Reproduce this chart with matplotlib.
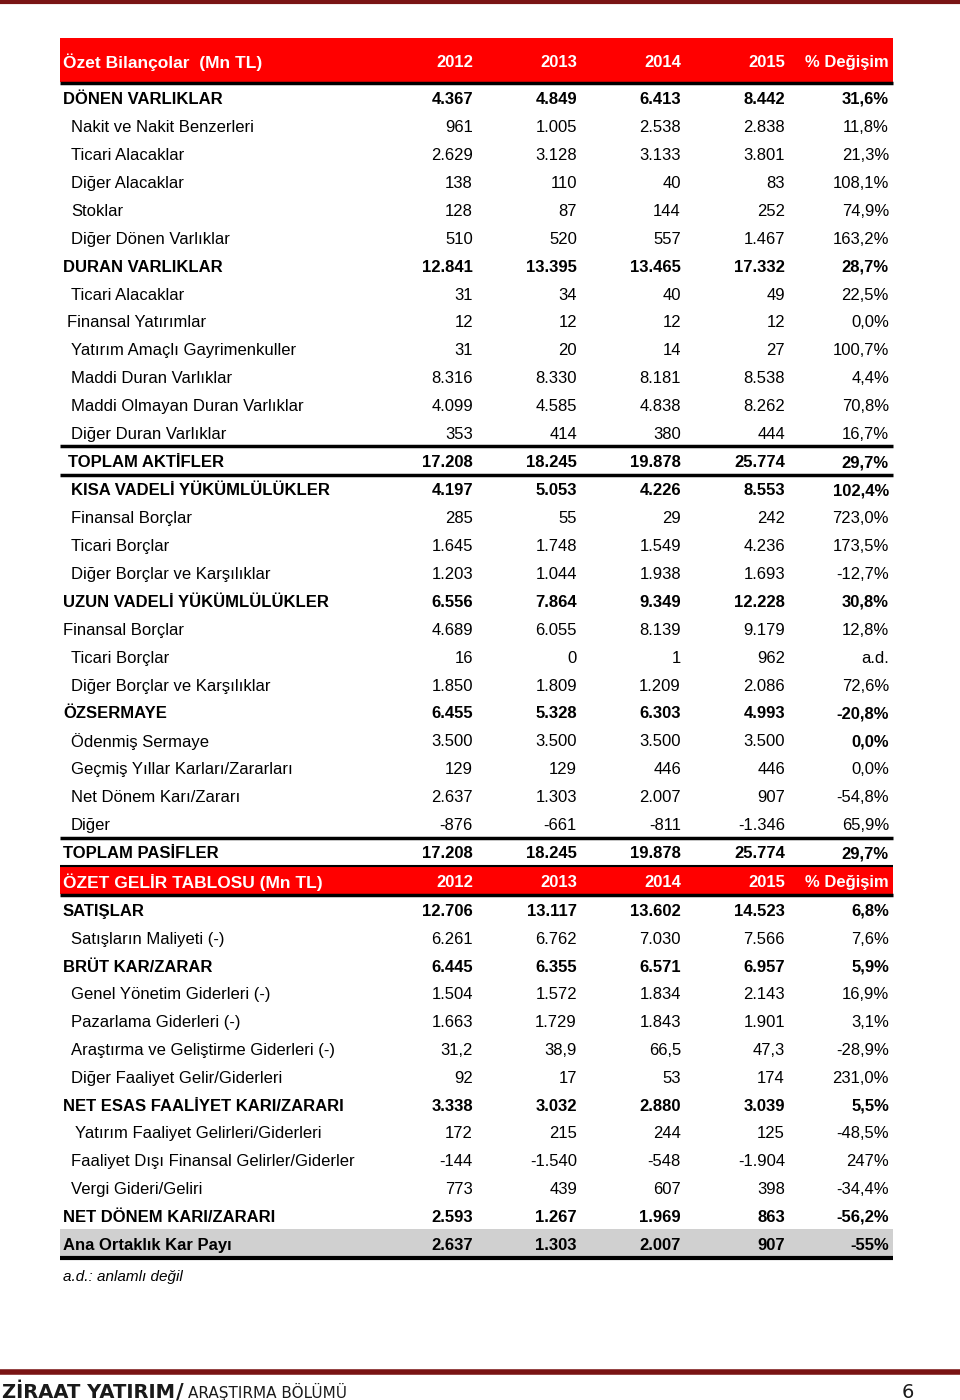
import matplotlib.pyplot as plt
from matplotlib.patches import Rectangle

plt.rcParams['font.family'] = ['Liberation Sans', 'DejaVu Sans']

years = ["2012", "2013", "2014", "2015"]

# bilanço
bs_labels = [
    "DÖNEN VARLIKLAR", "Nakit ve Nakit Benzerleri", "Ticari Alacaklar", "Diğer Alacaklar",
    "Stoklar", "Diğer Dönen Varlıklar", "DURAN VARLIKLAR", "Ticari Alacaklar",
    "Finansal Yatırımlar", "Yatırım Amaçlı Gayrimenkuller", "Maddi Duran Varlıklar",
    "Maddi Olmayan Duran Varlıklar", "Diğer Duran Varlıklar", "TOPLAM AKTİFLER",
    "KISA VADELİ YÜKÜMLÜLÜKLER", "Finansal Borçlar", "Ticari Borçlar",
    "Diğer Borçlar ve Karşılıklar", "UZUN VADELİ YÜKÜMLÜLÜKLER", "Finansal Borçlar",
    "Ticari Borçlar", "Diğer Borçlar ve Karşılıklar", "ÖZSERMAYE", "Ödenmiş Sermaye",
    "Geçmiş Yıllar Karları/Zararları", "Net Dönem Karı/Zararı", "Diğer", "TOPLAM PASİFLER",
]
bs_2012 = ["4.367", "961", "2.629", "138", "128", "510", "12.841", "31", "12", "31", "8.316",
           "4.099", "353", "17.208", "4.197", "285", "1.645", "1.203", "6.556", "4.689", "16",
           "1.850", "6.455", "3.500", "129", "2.637", "-876", "17.208"]
bs_2013 = ["4.849", "1.005", "3.128", "110", "87", "520", "13.395", "34", "12", "20", "8.330",
           "4.585", "414", "18.245", "5.053", "55", "1.748", "1.044", "7.864", "6.055", "0",
           "1.809", "5.328", "3.500", "129", "1.303", "-661", "18.245"]
bs_2014 = ["6.413", "2.538", "3.133", "40", "144", "557", "13.465", "40", "12", "14", "8.181",
           "4.838", "380", "19.878", "4.226", "29", "1.549", "1.938", "9.349", "8.139", "1",
           "1.209", "6.303", "3.500", "446", "2.007", "-811", "19.878"]
bs_2015 = ["8.442", "2.838", "3.801", "83", "252", "1.467", "17.332", "49", "12", "27", "8.538",
           "8.262", "444", "25.774", "8.553", "242", "4.236", "1.693", "12.228", "9.179", "962",
           "2.086", "4.993", "3.500", "446", "907", "-1.346", "25.774"]
bs_pct = ["31,6%", "11,8%", "21,3%", "108,1%", "74,9%", "163,2%", "28,7%", "22,5%", "0,0%",
          "100,7%", "4,4%", "70,8%", "16,7%", "29,7%", "102,4%", "723,0%", "173,5%", "-12,7%",
          "30,8%", "12,8%", "a.d.", "72,6%", "-20,8%", "0,0%", "0,0%", "-54,8%", "65,9%", "29,7%"]
bs_bold = [1, 0, 0, 0, 0, 0, 1, 0, 0, 0, 0, 0, 0, 1, 1, 0, 0, 0, 1, 0, 0, 0, 1, 0, 0, 0, 0, 1]
bs_pct_bold = [1, 0, 0, 0, 0, 0, 1, 0, 0, 0, 0, 0, 0, 1, 1, 0, 0, 0, 1, 0, 0, 0, 1, 1, 0, 0, 0, 1]
bs_indent = [0, 8, 8, 8, 8, 8, 0, 8, 4, 8, 8, 8, 8, 5, 8, 8, 8, 8, 0, 0, 8, 8, 0, 8, 8, 8, 8, 0]

# gelir tablosu
is_labels = [
    "SATIŞLAR", "Satışların Maliyeti (-)", "BRÜT KAR/ZARAR", "Genel Yönetim Giderleri (-)",
    "Pazarlama Giderleri (-)", "Araştırma ve Geliştirme Giderleri (-)",
    "Diğer Faaliyet Gelir/Giderleri", "NET ESAS FAALİYET KARI/ZARARI",
    "Yatırım Faaliyet Gelirleri/Giderleri", "Faaliyet Dışı Finansal Gelirler/Giderler",
    "Vergi Gideri/Geliri", "NET DÖNEM KARI/ZARARI", "Ana Ortaklık Kar Payı",
]
is_2012 = ["12.706", "6.261", "6.445", "1.504", "1.663", "31,2", "92", "3.338", "172", "-144",
           "773", "2.593", "2.637"]
is_2013 = ["13.117", "6.762", "6.355", "1.572", "1.729", "38,9", "17", "3.032", "215", "-1.540",
           "439", "1.267", "1.303"]
is_2014 = ["13.602", "7.030", "6.571", "1.834", "1.843", "66,5", "53", "2.880", "244", "-548",
           "607", "1.969", "2.007"]
is_2015 = ["14.523", "7.566", "6.957", "2.143", "1.901", "47,3", "174", "3.039", "125", "-1.904",
           "398", "863", "907"]
is_pct = ["6,8%", "7,6%", "5,9%", "16,9%", "3,1%", "-28,9%", "231,0%", "5,5%", "-48,5%",
          "247%", "-34,4%", "-56,2%", "-55%"]
is_bold = [1, 0, 1, 0, 0, 0, 0, 1, 0, 0, 0, 1, 1]
is_indent = [0, 8, 0, 8, 8, 8, 8, 0, 12, 8, 8, 0, 0]

RED = "#ff0000"
DARKRED = "#7a1414"
X0, X1 = 60, 893
col_right = [473, 577, 681, 785, 889]
FS = 12

fig = plt.figure(figsize=(9.6, 14), dpi=100)
ax = fig.add_axes([0, 0, 1, 1])
ax.set_xlim(0, 960)
ax.set_ylim(1400, 0)
ax.axis("off")


def hline(y, lw=1.0, color="black", x0=X0, x1=X1):
    ax.plot([x0, x1], [y, y], color=color, lw=lw, solid_capstyle="butt")


def header(y_top, y_bot, title, yc):
    ax.add_patch(Rectangle((X0, y_top), X1 - X0, y_bot - y_top, color=RED, lw=0))
    ax.text(X0 + 3, yc, title, color="white", fontsize=FS + 0.5, fontweight="bold",
            va="center_baseline", ha="left")
    for i, t in enumerate(years + ["% Değişim"]):
        ax.text(col_right[i], yc, t, color="white", fontsize=FS, fontweight="bold",
                va="center_baseline", ha="right")


def rows(y0, step, labels, cols, bold, indent, pct_bold=None):
    if pct_bold is None:
        pct_bold = bold
    for k, lab in enumerate(labels):
        y = y0 + k * step
        w = "bold" if bold[k] else "normal"
        ax.text(X0 + 3 + indent[k], y, lab, fontsize=FS, fontweight=w,
                va="center_baseline", ha="left")
        for i, c in enumerate(cols):
            wi = w if i < 4 else ("bold" if pct_bold[k] else "normal")
            ax.text(col_right[i], y, c[k], fontsize=FS, fontweight=wi,
                    va="center_baseline", ha="right")


# sayfa üst çizgisi
hline(2, lw=3, color=DARKRED, x0=0, x1=960)

# bilanço
header(38, 82, "Özet Bilançolar  (Mn TL)", 61)
hline(83, lw=2.5)
rows(98, 27.93, bs_labels, [bs_2012, bs_2013, bs_2014, bs_2015, bs_pct], bs_bold, bs_indent,
     bs_pct_bold)
hline(446, lw=2.5)
hline(475, lw=2.5)
hline(838, lw=2.5)

# gelir tablosu
hline(866, lw=1.5)
header(867, 894, "ÖZET GELİR TABLOSU (Mn TL)", 881)
hline(895, lw=2.5)
ax.add_patch(Rectangle((X0, 1229), X1 - X0, 28, color="#d0d0d0", lw=0))
rows(910, 27.8, is_labels, [is_2012, is_2013, is_2014, is_2015, is_pct], is_bold, is_indent)
hline(1258, lw=3)

ax.text(63, 1275, "a.d.: anlamlı değil", fontsize=11, style="italic",
        va="center_baseline", ha="left")

# alt bilgi
hline(1372, lw=4, color=DARKRED, x0=0, x1=960)
ax.text(2, 1390, "ZİRAAT YATIRIM", fontsize=14, fontweight="bold", color="#1a1a1a",
        family=["DejaVu Sans"], va="center_baseline", ha="left")
ax.text(176, 1390, "/", fontsize=15, fontweight="bold", color="#1a1a1a",
        family=["DejaVu Sans"], va="center_baseline", ha="left")
ax.text(188, 1390, "ARAŞTIRMA BÖLÜMÜ", fontsize=11, color="#1a1a1a",
        family=["DejaVu Sans"], va="center_baseline", ha="left")
ax.text(914, 1390, "6", fontsize=14, color="#1a1a1a", family=["DejaVu Sans"],
        va="center_baseline", ha="right")

fig.savefig("out.png", dpi=100)
